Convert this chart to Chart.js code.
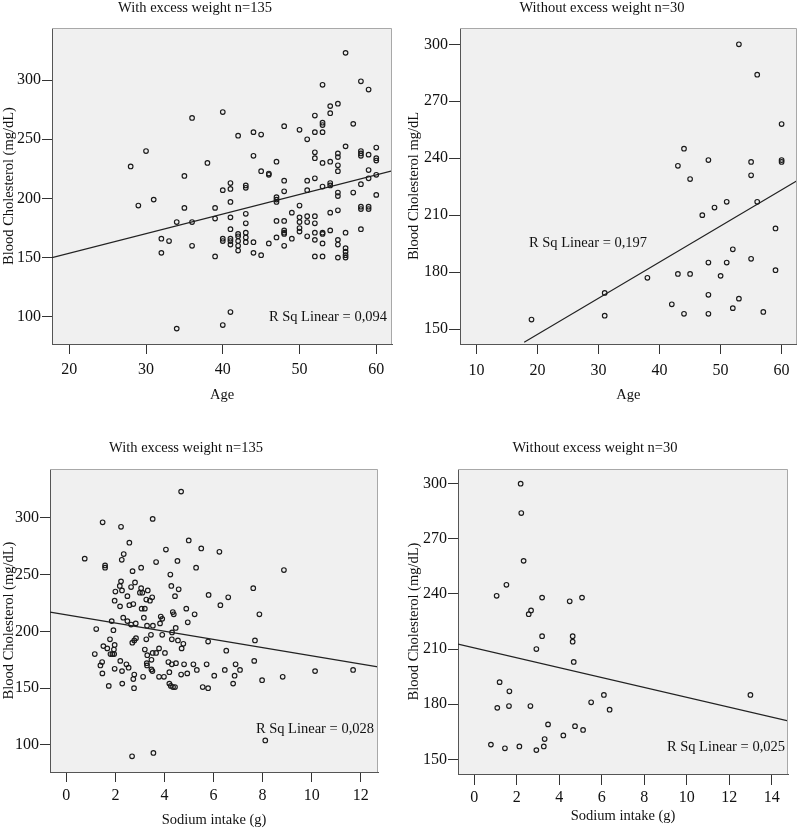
<!DOCTYPE html>
<html><head><meta charset="utf-8">
<script src="https://cdn.jsdelivr.net/npm/chart.js@4"></script>
<style>
html,body{margin:0;padding:0;background:#fff;}
body{width:800px;height:832px;position:relative;overflow:hidden;}
canvas{position:absolute;display:block;}
</style></head><body>
<canvas id="c1" width="400" height="415" style="left:0;top:0"></canvas>
<canvas id="c2" width="400" height="415" style="left:400px;top:0"></canvas>
<canvas id="c3" width="400" height="417" style="left:0;top:415px"></canvas>
<canvas id="c4" width="400" height="417" style="left:400px;top:415px"></canvas>
<script>
// ---------- Panel 1: With excess weight, Age vs cholesterol ----------
const p1Age = [28,30,31,35,36,38,40,40,41,41,42,43,43,44,44,45,45,46,46,47,47,48,48,48,50,51,51,51,52,52,52,52,52,53,53,53,53,53,53,54,54,54,54,54,55,55,55,55,55,55,55,56,56,57,57,58,58,58,58,58,59,59,59,59,60,60,60,60,60,
29,32,32,33,35,34,36,36,39,39,39,40,40,41,41,41,41,41,41,42,42,42,42,42,43,43,43,43,43,44,44,45,46,47,47,47,47,48,48,48,48,48,49,49,50,50,50,50,50,51,51,51,52,52,52,52,52,53,53,53,53,54,54,55,55,55,55,56,56,56,56,56,58,58,58,59,59,34,40,41];
const p1Chol = [227,240,199,219,268,230,273,207,213,208,253,211,209,256,236,254,223,221,220,231,201,261,215,206,258,250,215,207,270,256,239,234,217,296,264,262,256,230,210,278,272,231,213,211,280,238,235,228,223,205,202,323,244,263,205,299,240,238,236,212,292,237,224,217,243,234,232,220,203,
194,166,154,164,192,180,180,160,192,183,151,166,164,197,184,174,166,164,161,170,168,164,160,156,187,179,171,167,163,163,154,152,162,199,197,181,167,181,173,171,170,160,188,166,194,184,180,175,172,185,180,168,185,179,171,165,151,171,170,162,151,188,173,190,165,161,150,171,158,155,152,150,193,191,174,193,191,90,93,104];
const p1Fit = [{x:17.75,y:150},{x:62.05,y:223.3}];

// ---------- Panel 2: Without excess weight, Age vs cholesterol ----------
const p2Age = [53,56,60,43,44,45,48,55,55,60,60,47,49,51,56,59,52,48,51,55,59,43,45,38,50,31,48,53,42,52,44,48,57,31,19];
const p2Chol = [300,284,258,236,245,229,239,238,231,239,238,210,214,217,217,203,192,185,185,187,181,179,179,177,178,169,168,166,163,161,158,158,159,157,155];
const p2Fit = [{x:17.8,y:143},{x:62.45,y:228}];

// ---------- Panel 3: With excess weight, Sodium vs cholesterol ----------
const p3Sodium = [1.48,2.23,3.52,2.57,4.99,4.06,5.50,6.24,0.75,2.34,2.26,1.58,1.58,2.70,3.05,3.66,4.53,5.29,4.24,7.62,2.23,2.18,2.00,2.27,2.64,2.80,3.05,3.00,3.10,3.32,2.49,3.50,3.26,3.41,1.97,4.28,4.58,4.43,5.80,6.60,2.19,2.57,2.73,3.07,3.20,4.89,6.28,
5.23,7.87,1.85,2.32,2.49,2.64,2.83,3.16,3.29,3.53,3.85,3.91,3.82,4.34,4.38,4.95,4.46,1.22,1.92,3.45,3.91,4.31,3.26,4.30,4.55,2.84,2.77,2.69,1.78,5.78,7.69,4.77,4.70,1.51,1.97,1.67,1.94,3.20,3.78,3.30,3.52,3.66,4.02,6.52,1.16,1.80,1.88,1.95,3.47,2.20,1.46,1.39,2.45,2.54,3.28,3.29,4.16,4.30,4.47,4.80,5.18,5.72,6.90,7.66,1.97,2.27,1.47,3.47,3.51,4.20,4.68,4.93,5.32,6.46,7.08,2.77,2.73,3.13,3.78,3.98,6.03,6.86,2.28,1.73,2.76,4.20,4.26,4.35,4.43,5.56,5.78,6.80,7.98,8.82,10.14,11.69,2.68,3.55,8.11,4.68,8.87];
const p3Chol = [296,292,299,278,280,272,273,270,264,268,263,258,256,253,256,261,262,256,250,238,244,240,235,236,239,243,238,234,234,236,231,230,228,227,227,240,237,231,232,230,222,223,224,220,220,220,223,
215,215,209,212,209,206,207,212,205,205,213,211,207,217,215,208,203,202,201,197,197,199,193,193,192,194,192,190,193,191,192,189,185,187,188,185,184,184,185,179,181,181,181,183,180,180,180,180,175,174,173,170,171,168,172,170,173,171,172,171,171,171,171,174,167,165,163,166.5,165,164,162,163,166,166,166,162,158,160,160,160,161,161,154,152,150,154,152,151,151,151,150,154,157,160,165,166,90,93,104,323,254];
const p3Fit = [{x:-0.66,y:217},{x:12.7,y:168.8}];

// ---------- Panel 4: Without excess weight, Sodium vs cholesterol ----------
const p4Sodium = [2.18,2.21,2.32,1.51,1.05,3.19,4.49,5.07,2.67,2.56,3.19,4.63,4.63,2.92,4.68,1.19,1.65,6.10,13.0,5.50,1.08,1.63,2.64,6.37,3.47,4.74,5.12,4.19,3.31,0.78,1.44,2.12,2.92,3.27];
const p4Chol = [300,284,258,245,239,238,236,238,231,229,217,217,214,210,203,192,187,185,185,181,178,179,179,177,169,168,166,163,161,158,156,157,155,157];
const p4Fit = [{x:-0.77,y:212.7},{x:14.77,y:170.9}];

// ---------- tick labels ----------
const ageTicks1 = [20,30,40,50,60];
const ageTicks2 = [10,20,30,40,50,60];
const sodiumTicks1 = [0,2,4,6,8,10,12];
const sodiumTicks2 = [0,2,4,6,8,10,12,14];
const cholTicksA = [100,150,200,250,300];
const cholTicksB = [150,180,210,240,270,300];

const FAMILY = "'Liberation Serif','Times New Roman',serif";
const TXT = '#111';

const framePlugin = {
  id: 'frame',
  beforeDraw(chart, args, o) {
    const {ctx, chartArea: a} = chart;
    ctx.save();
    ctx.fillStyle = o.bg;
    ctx.fillRect(a.left, a.top, a.right - a.left, a.bottom - a.top);
    ctx.restore();
  },
  afterDraw(chart, args, o) {
    const {ctx, chartArea: a} = chart;
    ctx.save();
    ctx.strokeStyle = o.edge;
    ctx.lineWidth = 1;
    ctx.beginPath();
    ctx.moveTo(a.left, Math.round(a.top) + 0.5);
    ctx.lineTo(Math.round(a.right) - 0.5, Math.round(a.top) + 0.5);
    ctx.lineTo(Math.round(a.right) - 0.5, a.bottom);
    ctx.stroke();
    (o.texts || []).forEach(t => {
      ctx.font = t.size + 'px ' + FAMILY;
      ctx.fillStyle = TXT;
      ctx.textAlign = t.align;
      ctx.textBaseline = 'middle';
      ctx.fillText(t.text, t.x, t.y);
    });
    ctx.restore();
  }
};

function makeChart(id, c) {
  const pts = c.xs.map((v, i) => ({x: v, y: c.ys[i]}));
  new Chart(document.getElementById(id), {
    type: 'scatter',
    data: {
      datasets: [
        {type: 'line', data: c.fit, borderColor: '#222', borderWidth: 1.2, pointRadius: 0, fill: false, tension: 0, order: 2},
        {data: pts, pointStyle: 'circle', pointRadius: 2.3, pointHoverRadius: 2.3, borderWidth: 1.15, borderColor: '#1a1a1a', backgroundColor: 'rgba(0,0,0,0)', order: 1}
      ]
    },
    options: {
      responsive: false,
      animation: false,
      events: [],
      layout: {padding: {top: c.area.t, left: 0, right: c.W - c.area.r, bottom: 0}},
      plugins: {
        legend: {display: false},
        tooltip: {enabled: false},
        frame: {bg: '#f0f0f0', edge: '#a8a8a8', texts: c.texts}
      },
      scales: {
        x: {
          type: 'linear', position: 'bottom', min: c.xr[0], max: c.xr[1],
          afterBuildTicks: s => { s.ticks = c.xt.map(v => ({value: v})); },
          afterFit: s => { s.height = c.H - c.area.b; },
          grid: {drawOnChartArea: false, drawTicks: true, tickLength: c.xTickLen, color: '#333', lineWidth: 1},
          border: {display: true, color: '#555', width: 1},
          ticks: {autoSkip: false, maxRotation: 0, padding: c.xPad, color: TXT, font: {family: FAMILY, size: 16}},
          title: {display: true, text: c.xTitle, color: TXT, font: {family: FAMILY, size: 14.5}, padding: {top: 0, bottom: c.xTitlePad}}
        },
        y: {
          type: 'linear', position: 'left', min: c.yr[0], max: c.yr[1],
          afterBuildTicks: s => { s.ticks = c.yt.map(v => ({value: v})); },
          afterFit: s => { s.width = c.area.l; },
          grid: {drawOnChartArea: false, drawTicks: true, tickLength: c.yTickLen, color: '#333', lineWidth: 1},
          border: {display: true, color: '#555', width: 1},
          ticks: {autoSkip: false, padding: 1, color: TXT, font: {family: FAMILY, size: 16}},
          title: {display: true, text: c.yTitle, color: TXT, font: {family: FAMILY, size: 14.5}, padding: {top: c.yTitlePad, bottom: 0}}
        }
      }
    },
    plugins: [framePlugin]
  });
}

makeChart('c1', {
  W: 400, H: 415, area: {l: 52, r: 392, t: 28, b: 344},
  xs: p1Age, ys: p1Chol, fit: p1Fit,
  xr: [17.75, 62.05], yr: [77, 344], xt: ageTicks1, yt: cholTicksA,
  xTickLen: 10, xPad: 6, xTitlePad: 11, yTickLen: 10, yTitlePad: 0,
  xTitle: 'Age', yTitle: 'Blood Cholesterol (mg/dL)',
  texts: [
    {text: 'With excess weight n=135', x: 195, y: 8, size: 14.5, align: 'center'},
    {text: 'R Sq Linear = 0,094', x: 387, y: 317, size: 14.5, align: 'right'}
  ]
});

makeChart('c2', {
  W: 400, H: 415, area: {l: 60, r: 398, t: 28, b: 344},
  xs: p2Age, ys: p2Chol, fit: p2Fit,
  xr: [7.28, 62.45], yr: [142.1, 308.6], xt: ageTicks2, yt: cholTicksB,
  xTickLen: 10, xPad: 7, xTitlePad: 11, yTickLen: 11, yTitlePad: 5.6,
  xTitle: 'Age', yTitle: 'Blood Cholesterol mg/dL',
  texts: [
    {text: 'Without excess weight n=30', x: 202, y: 8, size: 14.5, align: 'center'},
    {text: 'R Sq Linear = 0,197', x: 129, y: 243, size: 14.5, align: 'left'}
  ]
});

makeChart('c3', {
  W: 400, H: 417, area: {l: 50, r: 378, t: 54, b: 357},
  xs: p3Sodium, ys: p3Chol, fit: p3Fit,
  xr: [-0.665, 12.705], yr: [76.2, 342.9], xt: sodiumTicks1, yt: cholTicksA,
  xTickLen: 10, xPad: 4, xTitlePad: 3.6, yTickLen: 10, yTitlePad: 0,
  xTitle: 'Sodium intake (g)', yTitle: 'Blood Cholesterol (mg/dL)',
  texts: [
    {text: 'With excess weight n=135', x: 186, y: 33, size: 14.5, align: 'center'},
    {text: 'R Sq Linear = 0,028', x: 374, y: 314, size: 14.5, align: 'right'}
  ]
});

makeChart('c4', {
  W: 400, H: 417, area: {l: 58, r: 388, t: 54, b: 359},
  xs: p4Sodium, ys: p4Chol, fit: p4Fit,
  xr: [-0.77, 14.77], yr: [142, 308], xt: sodiumTicks2, yt: cholTicksB,
  xTickLen: 11, xPad: 3, xTitlePad: 7.6, yTickLen: 10, yTitlePad: 5.6,
  xTitle: 'Sodium intake (g)', yTitle: 'Blood Cholesterol (mg/dL)',
  texts: [
    {text: 'Without excess weight n=30', x: 195, y: 33, size: 14.5, align: 'center'},
    {text: 'R Sq Linear = 0,025', x: 385, y: 332, size: 14.5, align: 'right'}
  ]
});
</script>
</body></html>
